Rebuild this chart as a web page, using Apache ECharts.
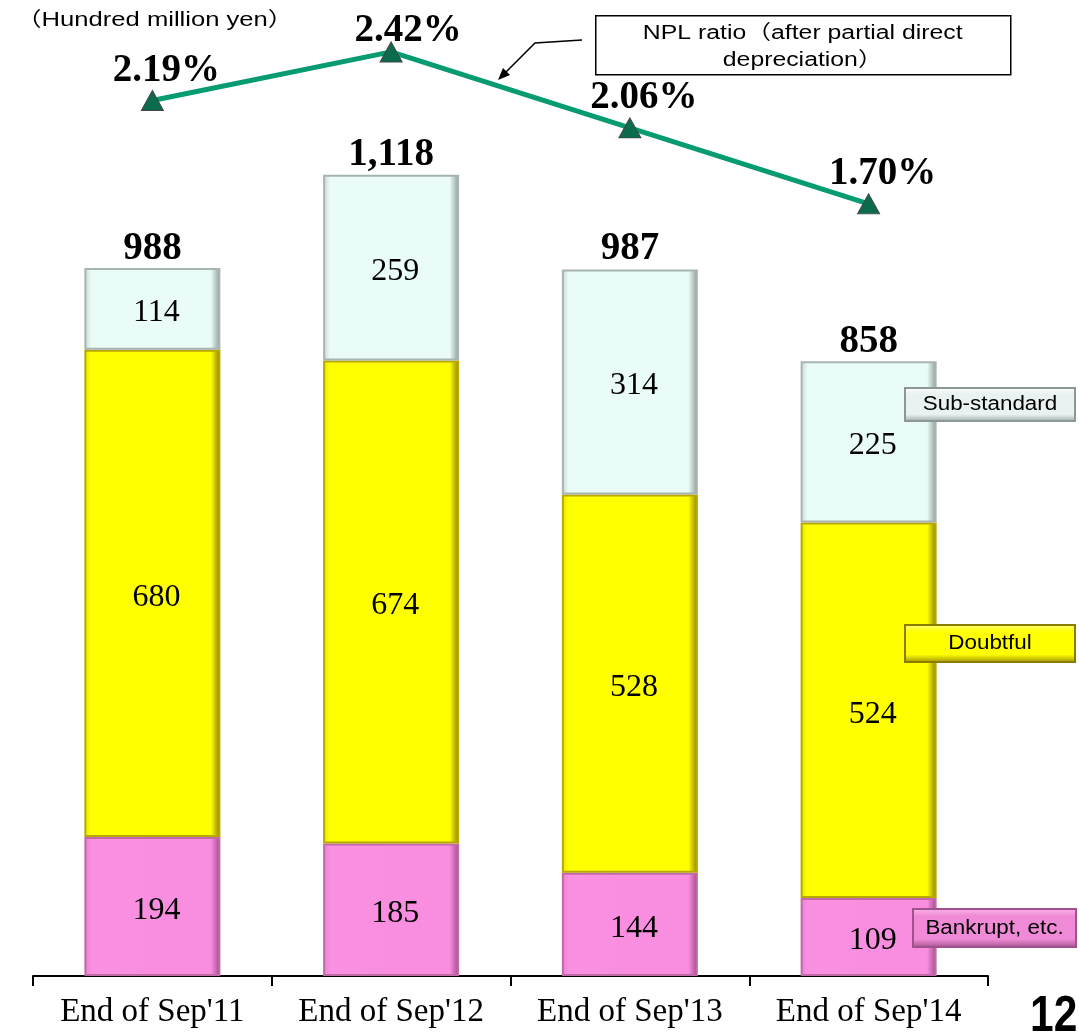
<!DOCTYPE html>
<html>
<head>
<meta charset="utf-8">
<script src="https://cdn.jsdelivr.net/npm/echarts@6/dist/echarts.min.js"></script>
<style>
  html, body { margin: 0; padding: 0; background: #fff; }
  #chart { width: 1079px; height: 1036px; }
</style>
</head>
<body>
<div id="chart"></div>
<script>
const categories = ["End of Sep'11", "End of Sep'12", "End of Sep'13", "End of Sep'14"]
const bankrupt = [194, 185, 144, 109]
const doubtful = [680, 674, 528, 524]
const substandard = [114, 259, 314, 225]
const totals = [988, 1118, 987, 858]
const nplRatio = [2.19, 2.42, 2.06, 1.70]

const serif = '"Liberation Serif", "Times New Roman", serif'
const sans = '"Liberation Sans", Arial, "Noto Sans CJK JP", sans-serif'

const chart = echarts.init(document.getElementById('chart'))

// side shading to imitate the bevelled bars
const bevel = (edgeL, base, edgeR) => new echarts.graphic.LinearGradient(0, 0, 1, 0, [
  { offset: 0, color: edgeL },
  { offset: 0.05, color: base },
  { offset: 0.93, color: base },
  { offset: 1, color: edgeR }
])

const bevelV = (top, base, bottom) => new echarts.graphic.LinearGradient(0, 0, 0, 1, [
  { offset: 0, color: top },
  { offset: 0.2, color: base },
  { offset: 0.78, color: base },
  { offset: 1, color: bottom }
])

const segLabel = {
  show: true,
  position: 'inside',
  offset: [4, 4],
  color: '#000',
  fontFamily: serif,
  fontSize: 32
}

const stackBar = (name, data, fill, border) => ({
  name,
  type: 'bar',
  stack: 'npl',
  data,
  barWidth: 136,
  itemStyle: { color: fill, borderColor: border, borderWidth: 2 },
  label: segLabel
})

const legendBox = (x, y, w, h, text, fill, border) => ({
  type: 'group',
  left: x,
  top: y,
  z: 100,
  children: [
    {
      type: 'rect',
      z: 100,
      shape: { x: 0, y: 0, width: w, height: h },
      style: { fill, stroke: border, lineWidth: 2 }
    },
    {
      type: 'text',
      z: 101,
      x: w / 2,
      y: h / 2,
      scaleX: 1.12,
      style: { text, fill: '#000', font: '20px ' + sans, align: 'center', verticalAlign: 'middle' }
    }
  ]
})

chart.setOption({
  animation: false,
  grid: { left: 33, right: 91, top: 0, bottom: 60, containLabel: false },
  xAxis: {
    type: 'category',
    data: categories,
    axisLine: { lineStyle: { color: '#000', width: 2 } },
    axisTick: { show: true, interval: 0, length: 10, lineStyle: { color: '#000', width: 2 } },
    axisLabel: { interval: 0, hideOverlap: false, color: '#000', fontFamily: serif, fontSize: 33, margin: 20 }
  },
  yAxis: [
    { type: 'value', min: 0, max: 1362, show: false },
    { type: 'value', min: -1.959, max: 2.666, show: false }
  ],
  series: [
    stackBar('Bankrupt, etc.', bankrupt,
      new echarts.graphic.LinearGradient(0, 0, 1, 0, [
        { offset: 0, color: '#e77fd0' },
        { offset: 0.05, color: '#fa90e2' },
        { offset: 0.93, color: '#f98de0' },
        { offset: 1, color: '#9c4a86' }
      ]), '#c06aa8'),
    stackBar('Doubtful', doubtful, bevel('#e6e600', '#ffff00', '#8a7c00'), '#b8a800'),
    stackBar('Sub-standard', substandard, bevel('#c8d4d2', '#e9fcf8', '#8d9896'), '#a8b4b2'),
    {
      name: 'Total',
      type: 'scatter',
      data: totals,
      symbolSize: 0,
      itemStyle: { opacity: 1 },
      label: {
        show: true,
        position: 'top',
        distance: 0,
        color: '#000',
        fontFamily: serif,
        fontWeight: 'bold',
        fontSize: 39,
        formatter: (p) => p.value.toLocaleString('en-US')
      },
      z: 5
    },
    {
      name: 'NPL ratio',
      type: 'line',
      yAxisIndex: 1,
      data: nplRatio.map((v, i) => (i === 1 ? { value: v, label: { offset: [17, 13] } } : v)),
      symbol: 'triangle',
      symbolSize: [22, 20],
      lineStyle: { color: '#079b72', width: 5 },
      itemStyle: { color: '#0b6b4f', borderColor: '#444', borderWidth: 1 },
      label: {
        show: true,
        position: 'top',
        distance: 4,
        offset: [14, 4],
        color: '#000',
        fontFamily: serif,
        fontWeight: 'bold',
        fontSize: 39,
        formatter: (p) => p.value.toFixed(2) + '%'
      },
      z: 10
    }
  ],
  graphic: [
    {
      type: 'text',
      left: 16,
      top: 10,
      scaleX: 1.28,
      style: { text: '（Hundred million yen）', fill: '#000', font: '20px ' + sans }
    },
    {
      type: 'group',
      left: 595,
      top: 15,
      children: [
        {
          type: 'rect',
          shape: { x: 0, y: 0, width: 415, height: 59 },
          style: { fill: '#fff', stroke: '#000', lineWidth: 1.5 }
        },
        {
          type: 'text',
          x: 207,
          y: 4,
          scaleX: 1.24,
          style: {
            text: 'NPL ratio（after partial direct\ndepreciation）',
            fill: '#000', font: '20px ' + sans, align: 'center', lineHeight: 27
          }
        }
      ]
    },
    {
      type: 'polyline',
      shape: { points: [[582, 40], [535, 43], [503, 75]] },
      style: { stroke: '#000', lineWidth: 1.5, fill: null }
    },
    {
      type: 'polygon',
      shape: { points: [[498, 80], [510, 75], [503, 68]] },
      style: { fill: '#000' }
    },
    legendBox(904, 387, 170, 33, 'Sub-standard', bevelV('#ffffff', '#e9f2f0', '#9aa6a4'), '#8d9896'),
    legendBox(904, 624, 170, 37, 'Doubtful', bevelV('#ffff80', '#ffff00', '#9a8c00'), '#8a7c00'),
    legendBox(912, 908, 163, 38, 'Bankrupt, etc.', bevelV('#fbb8ea', '#f08ad6', '#a0508a'), '#a0508a'),
    {
      type: 'text',
      left: 1030,
      top: 992,
      scaleX: 0.85,
      style: { text: '12', fill: '#000', font: 'bold 50px ' + sans }
    }
  ]
})
</script>
</body>
</html>
